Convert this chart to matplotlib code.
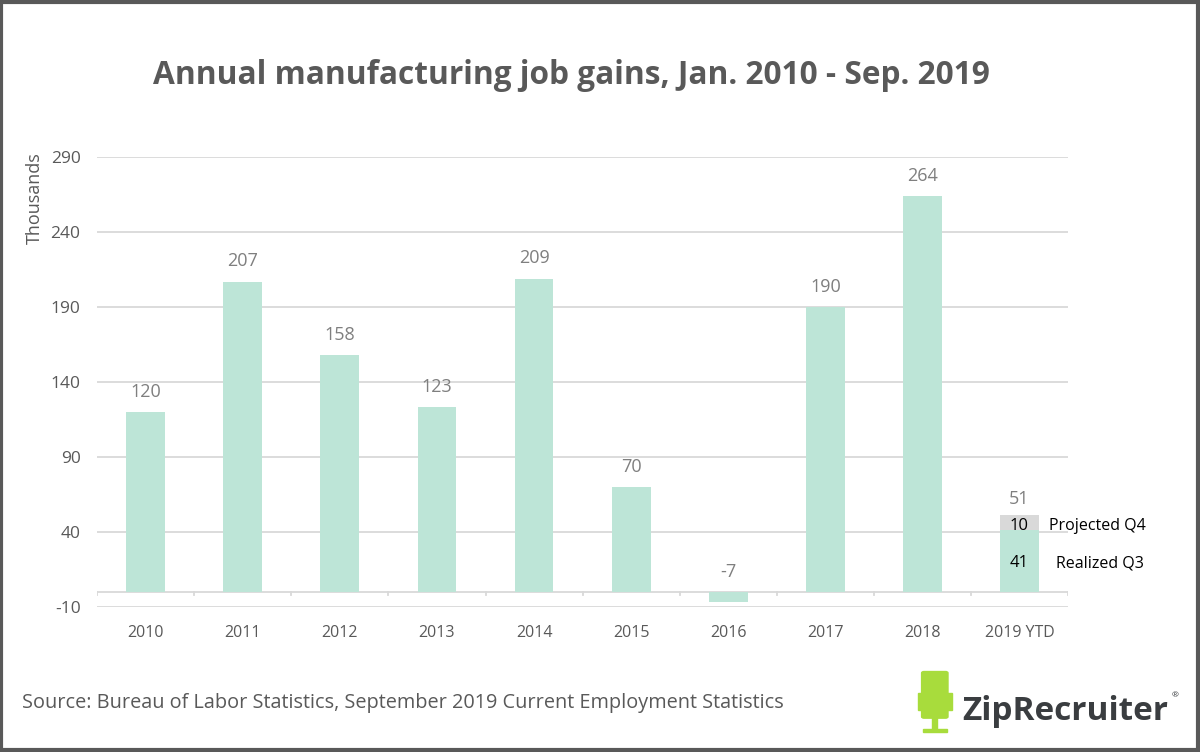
import matplotlib
matplotlib.use("Agg")
import matplotlib.pyplot as plt
from matplotlib.patches import Rectangle, FancyBboxPatch

plt.rcParams["font.family"] = ["Open Sans", "DejaVu Sans"]
plt.rcParams["axes.unicode_minus"] = False

# Dane
years = ["2010", "2011", "2012", "2013", "2014", "2015", "2016", "2017", "2018", "2019 YTD"]
gains = [120, 207, 158, 123, 209, 70, -7, 190, 264, 41]
projected = [0, 0, 0, 0, 0, 0, 0, 0, 0, 10]
seg_names = ["Realized Q3", "Projected Q4"]
yticks = [-10, 40, 90, 140, 190, 240, 290]

GREEN = "#bde5d7"
GREY_BAR = "#d9d9d9"
TEXT = "#595959"
LABEL = "#7f7f7f"

fig = plt.figure(figsize=(12, 7.52), dpi=100)
ax = fig.add_axes([0.081, 0.193, 0.809, 0.598])

x = list(range(len(years)))
w = 0.4
ax.bar(x, gains, width=w, color=GREEN, zorder=3)
ax.bar(x, projected, width=w, bottom=gains, color=GREY_BAR, zorder=3)

# etykiety wartości
for i, (g, p) in enumerate(zip(gains, projected)):
    total = g + p
    top = max(total, 0)
    off = 8 if i < len(years) - 1 else 5
    ax.annotate(str(total), (i, top), xytext=(0, off), textcoords="offset points",
                ha="center", va="bottom", fontsize=13, color=LABEL)

# segmenty 2019
last = len(years) - 1
ax.text(last, 19, str(gains[last]), ha="center", va="center",
        fontsize=12, color="black", zorder=4)
ax.text(last, 44, str(projected[last]), ha="center",
        va="center", fontsize=12, color="black", zorder=4)
ax.text(last + 0.38, 19, seg_names[0], ha="left", va="center",
        fontsize=11.5, color="black")
ax.text(last + 0.30, 44, seg_names[1], ha="left",
        va="center", fontsize=11.5, color="black")

ax.set_ylim(-10, 290)
ax.set_xlim(-0.5, len(years) - 0.5)
ax.set_yticks(yticks)
ax.yaxis.grid(True, color="#d9d9d9", linewidth=1.3, zorder=0)
ax.tick_params(axis="y", length=0, labelsize=12.5, labelcolor=TEXT, pad=12)
ax.set_xticks(x)
ax.set_xticklabels(years)
ax.tick_params(axis="x", length=0, labelsize=11.5, labelcolor=TEXT, pad=13)
for s in ax.spines.values():
    s.set_visible(False)

# oś zero z kreskami
ax.axhline(0, color="#d9d9d9", linewidth=1.3, zorder=2)
for b in range(len(years) + 1):
    ax.plot([b - 0.5, b - 0.5], [0, -2], color="#d9d9d9", linewidth=1.3, zorder=2)

ax.set_ylabel("Thousands", fontsize=13, color=TEXT)
ax.yaxis.set_label_coords(-0.055, 0.91)

fig.text(0.476, 0.9, "Annual manufacturing job gains, Jan. 2010 - Sep. 2019",
         ha="center", va="center", fontsize=22.8, fontweight="bold", color=TEXT)
fig.text(0.018, 0.065, "Source: Bureau of Labor Statistics, September 2019 Current Employment Statistics",
         ha="left", va="center", fontsize=14.3, color=TEXT)

# logo ZipRecruiter
lime = "#a8dc3c"
fig.patches.append(FancyBboxPatch((0.770, 0.047), 0.018, 0.058, boxstyle="round,pad=0.002",
                                  transform=fig.transFigure, color=lime))
fig.patches.append(Rectangle((0.765, 0.056), 0.004, 0.022, transform=fig.transFigure, color=lime))
fig.patches.append(Rectangle((0.789, 0.056), 0.004, 0.022, transform=fig.transFigure, color=lime))
fig.patches.append(Rectangle((0.777, 0.028), 0.004, 0.020, transform=fig.transFigure, color=lime))
fig.patches.append(Rectangle((0.769, 0.026), 0.020, 0.004, transform=fig.transFigure, color=lime))
fig.text(0.802, 0.054, "ZipRecruiter", ha="left", va="center", fontsize=24,
         fontweight="bold", color="#3a3d40")
fig.text(0.976, 0.075, "®", ha="left", va="center", fontsize=6, color="#3a3d40")

# ramka
fig.patches.append(Rectangle((0.001, 0.002), 0.997, 0.996, transform=fig.transFigure,
                             fill=False, edgecolor="#595959", linewidth=3))

fig.savefig("out.png", dpi=100)
